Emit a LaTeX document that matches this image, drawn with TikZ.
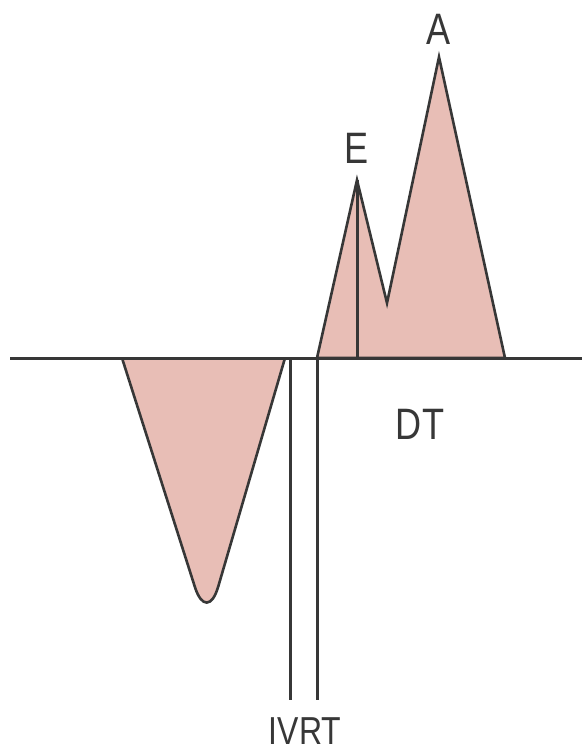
\documentclass[tikz,border=0pt]{standalone}
\usepackage{fontspec}
\setmainfont{Liberation Sans}
\usepackage{xcolor}
\usepackage{tikz}
\usetikzlibrary{positioning, calc}
\definecolor{rosa}{RGB}{232,190,182}
\definecolor{tratto}{RGB}{55,55,55}
\tikzset{
    onda/.style={draw=tratto, fill=rosa, line width=2.6pt, line join=miter},
    linea/.style={draw=tratto, line width=3pt},
    etichetta/.style={text=tratto, inner sep=0pt, font=\fontsize{44}{44}\selectfont}
}
\newcommand{\stretto}[1]{\scalebox{0.82}[1]{#1}}

\begin{document}
\begin{tikzpicture}[x=1pt, y=-1pt]
    \useasboundingbox (0,0) rectangle (582,756);

    % Onda S (sotto la linea)
    \coordinate (ssx) at (122,358);
    \coordinate (sfondo) at (207,625);
    \coordinate (sdx) at (285,358);
    \filldraw[onda, rounded corners=40pt] (ssx) -- (sfondo) -- (sdx);

    % Onde E e A
    \coordinate (inizio) at (317,358);
    \coordinate (epeak) at (357,180);
    \coordinate (valle) at (387,303);
    \coordinate (apeak) at (439,57);
    \coordinate (fine) at (505,358);
    \filldraw[onda] (inizio) -- (epeak) -- (valle) -- (apeak) -- (fine) -- cycle;

    % Linea di base
    \coordinate (sx) at (10,358);
    \coordinate (dx) at (582,358);
    \draw[linea] (sx) -- (dx);

    % Verticale dal picco E
    \coordinate (ebase) at (357,358);
    \draw[linea] (epeak) -- (ebase);

    % IVRT
    \coordinate (v1top) at (290,358);
    \coordinate (v1bot) at (290,700);
    \coordinate (v2top) at (317,358);
    \coordinate (v2bot) at (317,700);
    \draw[linea] (v1top) -- (v1bot);
    \draw[linea] (v2top) -- (v2bot);

    % Etichette
    \node[etichetta] (lblA) at (439,29) {\stretto{A}};
    \node[etichetta] (lblE) at (357,148) {\stretto{E}};
    \node[etichetta] (lblDT) at (420,424) {\stretto{DT}};
    \node[etichetta, font=\fontsize{39}{39}\selectfont] (lblIVRT) at (305,731) {\stretto{IVRT}};
\end{tikzpicture}
\end{document}
